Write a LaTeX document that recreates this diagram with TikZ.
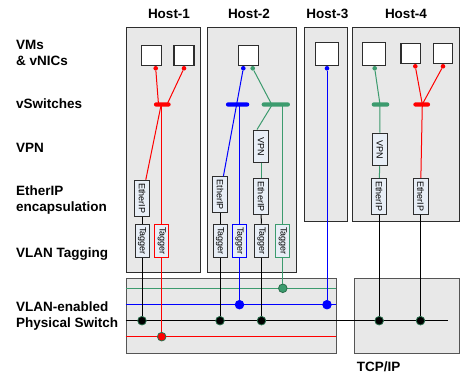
\documentclass[tikz,border=0pt]{standalone}
\usepackage{fontspec}
\setmainfont{Liberation Sans}
\usetikzlibrary{calc}

\definecolor{lnred}{RGB}{255,0,0}
\definecolor{lnblue}{RGB}{0,0,255}
\definecolor{lngreen}{RGB}{60,155,110}
\definecolor{hostfill}{RGB}{232,232,232}
\definecolor{hostedge}{RGB}{45,45,45}
\definecolor{swedge}{RGB}{85,85,85}
\definecolor{boxfill}{RGB}{232,238,246}
\definecolor{portedge}{RGB}{40,110,75}

\tikzset{
  lbl/.style={anchor=base west, inner sep=0, align=left,
              font=\fontsize{13.5}{16}\selectfont\bfseries},
  hostlbl/.style={anchor=base, inner sep=0,
              font=\fontsize{13.5}{16}\selectfont\bfseries},
  hostbox/.style={draw=hostedge, fill=hostfill, line width=1pt,
              anchor=north west, inner sep=0},
  swbox/.style={draw=swedge, fill=hostfill, line width=1pt,
              anchor=north west, inner sep=0},
  vm/.style={draw=hostedge, fill=white, line width=1.1pt, inner sep=0},
  nic/.style={circle, fill, inner sep=0, minimum size=4.6},
  vsw/.style={fill, rounded corners=2, inner sep=0, minimum height=4.2},
  fbox/.style={draw, fill=boxfill, rotate=-90, inner sep=0, line width=1pt,
              text=black, font=\fontsize{9}{10}\selectfont},
  ether/.style={fbox, minimum width=36, minimum height=15},
  tagbox/.style={fbox, minimum width=33.5, minimum height=14},
  vpnbox/.style={fbox, minimum width=32.5, minimum height=15},
  link/.style={line width=1pt},
  port/.style={circle, inner sep=0, minimum size=8.6, line width=0.8pt},
}

\begin{document}
\begin{tikzpicture}[x=1pt, y=-1pt]
\useasboundingbox (0,0) rectangle (461,374);

% ---- row labels (two-line labels sit on the baseline of their last line) ----
\node[lbl] (lvm)  at (16,65.3)  {VMs\\\& vNICs};
\node[lbl] (lsw)  at (16,108.7) {vSwitches};
\node[lbl] (lvpn) at (16,152.3) {VPN};
\node[lbl] (leip) at (16,211.7) {EtherIP\\encapsulation};
\node[lbl] (ltag) at (16,257.3) {VLAN Tagging};
\node[lbl] (lpsw) at (16,327.3) {VLAN-enabled\\Physical Switch};
\node[lbl] (ltcp) at (356.7,371.7) {TCP/IP};

% ---- host labels ----
\node[hostlbl] (t1) at (169,18.3)   {Host-1};
\node[hostlbl] (t2) at (249,18.3)   {Host-2};
\node[hostlbl] (t3) at (327.3,18.3) {Host-3};
\node[hostlbl] (t4) at (406,18.3)   {Host-4};

% ---- enclosures ----
\node[hostbox, minimum width=74.4,  minimum height=244.9] (h1) at (125.8,27.3) {};
\node[hostbox, minimum width=88.9,  minimum height=245]   (h2) at (206.8,27.3) {};
\node[hostbox, minimum width=42.7,  minimum height=193.4] (h3) at (304,27.3)   {};
\node[hostbox, minimum width=107,   minimum height=193.7] (h4) at (352.3,27.3) {};
\node[swbox,   minimum width=210.2, minimum height=74.4]  (sw) at (125.5,278.3) {};
\node[swbox,   minimum width=105,   minimum height=74.4]  (ip) at (354.3,278.3) {};

% ---- VLAN lines in the physical switch ----
\coordinate (gL) at (125.5,288.3); \coordinate (gR) at (335.7,288.3);
\coordinate (bL) at (125.5,304.7); \coordinate (bR) at (335.7,304.7);
\coordinate (kL) at (125.5,320.7); \coordinate (kR) at (448.3,320.7);
\coordinate (rL) at (125.5,336.7); \coordinate (rR) at (335.7,336.7);
\draw[link, lngreen] (gL) -- (gR);
\draw[link, lnblue]  (bL) -- (bR);
\draw[link, black]   (kL) -- (kR);
\draw[link, lnred]   (rL) -- (rR);

% ---- virtual machines ----
\node[vm, minimum size=20] (vm11) at (151.7,55.3) {};
\node[vm, minimum size=20] (vm12) at (184,55.3)   {};
\node[vm, minimum size=20] (vm21) at (248.3,55.3) {};
\node[vm, minimum size=23] (vm31) at (327.2,53.8) {};
\node[vm, minimum size=23] (vm41) at (374.2,53.8) {};
\node[vm, minimum size=19.5] (vm42) at (410.7,53.4) {};
\node[vm, minimum size=19.5] (vm43) at (443,53.4)   {};

% ---- functional boxes ----
% Host-1
\node[ether,  draw=hostedge] (e11) at (142,198.3) {EtherIP};
\node[tagbox, draw=hostedge] (t11) at (142,241)   {Tagger};
\node[tagbox, draw=lnred]    (t12) at (161.7,241) {Tagger};
% Host-2
\node[ether,  draw=hostedge] (e21) at (220,194.7)   {EtherIP};
\node[tagbox, draw=hostedge] (t21) at (220,241)     {Tagger};
\node[tagbox, draw=lnblue]   (t22) at (239.5,241)   {Tagger};
\node[vpnbox, draw=hostedge] (v21) at (261,146.3)   {VPN};
\node[ether,  draw=hostedge] (e22) at (261,196.5)   {EtherIP};
\node[tagbox, draw=hostedge] (t23) at (261.5,241)   {Tagger};
\node[tagbox, draw=lngreen]  (t24) at (282.8,241)   {Tagger};
% Host-4
\node[vpnbox, draw=hostedge] (v41) at (379.8,149.5) {VPN};
\node[ether,  draw=hostedge] (e41) at (379.2,196.3) {EtherIP};
\node[ether,  draw=hostedge] (e42) at (420.5,196.3) {EtherIP};

% ---- switch ports ----
\node[port, fill=black, draw=portedge]   (p1) at (142,320.7)   {};
\node[port, fill=lnred, draw=portedge]   (p2) at (161.7,336.7) {};
\node[port, fill=black, draw=portedge]   (p3) at (220,320.7)   {};
\node[port, fill=lnblue, draw=lnblue]    (p4) at (239.5,304.7) {};
\node[port, fill=black, draw=portedge]   (p5) at (261.5,320.7) {};
\node[port, fill=lngreen, draw=portedge] (p6) at (282.8,288.3) {};
\node[port, fill=lnblue, draw=lnblue]    (p7) at (327,304.7)   {};
\node[port, fill=black, draw=portedge]   (p8) at (379.2,320.7) {};
\node[port, fill=black, draw=portedge]   (p9) at (420.5,320.7) {};

% ---- vNICs ----
\node[nic, lnred]   (n11) at (155.7,68.3) {};
\node[nic, lnred]   (n12) at (184,68.3)   {};
\node[nic, lnblue]  (n21) at (243.3,68.3) {};
\node[nic, lngreen] (n22) at (252.7,68.3) {};
\node[nic, lnblue]  (n31) at (327,68.3)   {};
\node[nic, lngreen] (n41) at (374.7,68.3) {};
\node[nic, lnred]   (n42) at (415.3,66.3) {};
\node[nic, lnred]   (n43) at (443,66.3)   {};

% ---- vSwitch joints ----
\coordinate (j11) at (158.5,104.5);
\coordinate (j12) at (167,104.5);
\coordinate (j13) at (161,105.5);
\coordinate (j14) at (161.7,104.5);
\coordinate (j21) at (239.5,104.5);
\coordinate (j22) at (271.7,104.5);
\coordinate (j23) at (271.7,105.5);
\coordinate (j24) at (282.8,104.5);
\coordinate (j41) at (380,104.5);
\coordinate (j42) at (422.3,104.3);

% ---- connectors: Host-1 ----
\draw[link, lnred] (n11) -- (j11);
\draw[link, lnred] (n12) -- (j12);
\draw[link, lnred] (j13) -- (e11);
\draw[link, lnred] (j14) -- (t12);
\draw[link, lnred] (t12) -- (p2);
\draw[link, black] (e11) -- (t11);
\draw[link, black] (t11) -- (p1);

% ---- connectors: Host-2 ----
\draw[link, lnblue]  (n21) -- (e21);
\draw[link, lnblue]  (j21) -- (t22);
\draw[link, lnblue]  (t22) -- (p4);
\draw[link, black]   (e21) -- (t21);
\draw[link, black]   (t21) -- (p3);
\draw[link, lngreen] (n22) -- (j22);
\draw[link, lngreen] (j23) -- ($(v21.west)+(-4,0)$);
\draw[link, lngreen] (v21) -- (e22);
\draw[link, black]   (e22) -- (t23);
\draw[link, black]   (t23) -- (p5);
\draw[link, lngreen] (j24) -- (t24);
\draw[link, lngreen] (t24) -- (p6);

% ---- connectors: Host-3 ----
\draw[link, lnblue] (n31) -- (p7);

% ---- connectors: Host-4 ----
\draw[link, lngreen] (n41) -- (j41);
\draw[link, lngreen] (j41) -- (v41);
\draw[link, lngreen] (v41) -- (e41);
\draw[link, black]   (e41) -- (p8);
\draw[link, lnred]   (n42) -- (j42);
\draw[link, lnred]   (n43) -- (j42);
\draw[link, lnred]   (j42) -- (e42);
\draw[link, black]   (e42) -- (p9);

% ---- vSwitch bars ----
\node[vsw, lnred,   minimum width=16.7] (s1)  at (162.3,104.5) {};
\node[vsw, lnblue,  minimum width=23.3] (s21) at (237.6,104.5) {};
\node[vsw, lngreen, minimum width=28.3] (s22) at (275.8,104.5) {};
\node[vsw, lngreen, minimum width=17.6] (s41) at (380.5,104.5) {};
\node[vsw, lnred,   minimum width=16.7] (s42) at (421.7,104.5) {};
\end{tikzpicture}
\end{document}
